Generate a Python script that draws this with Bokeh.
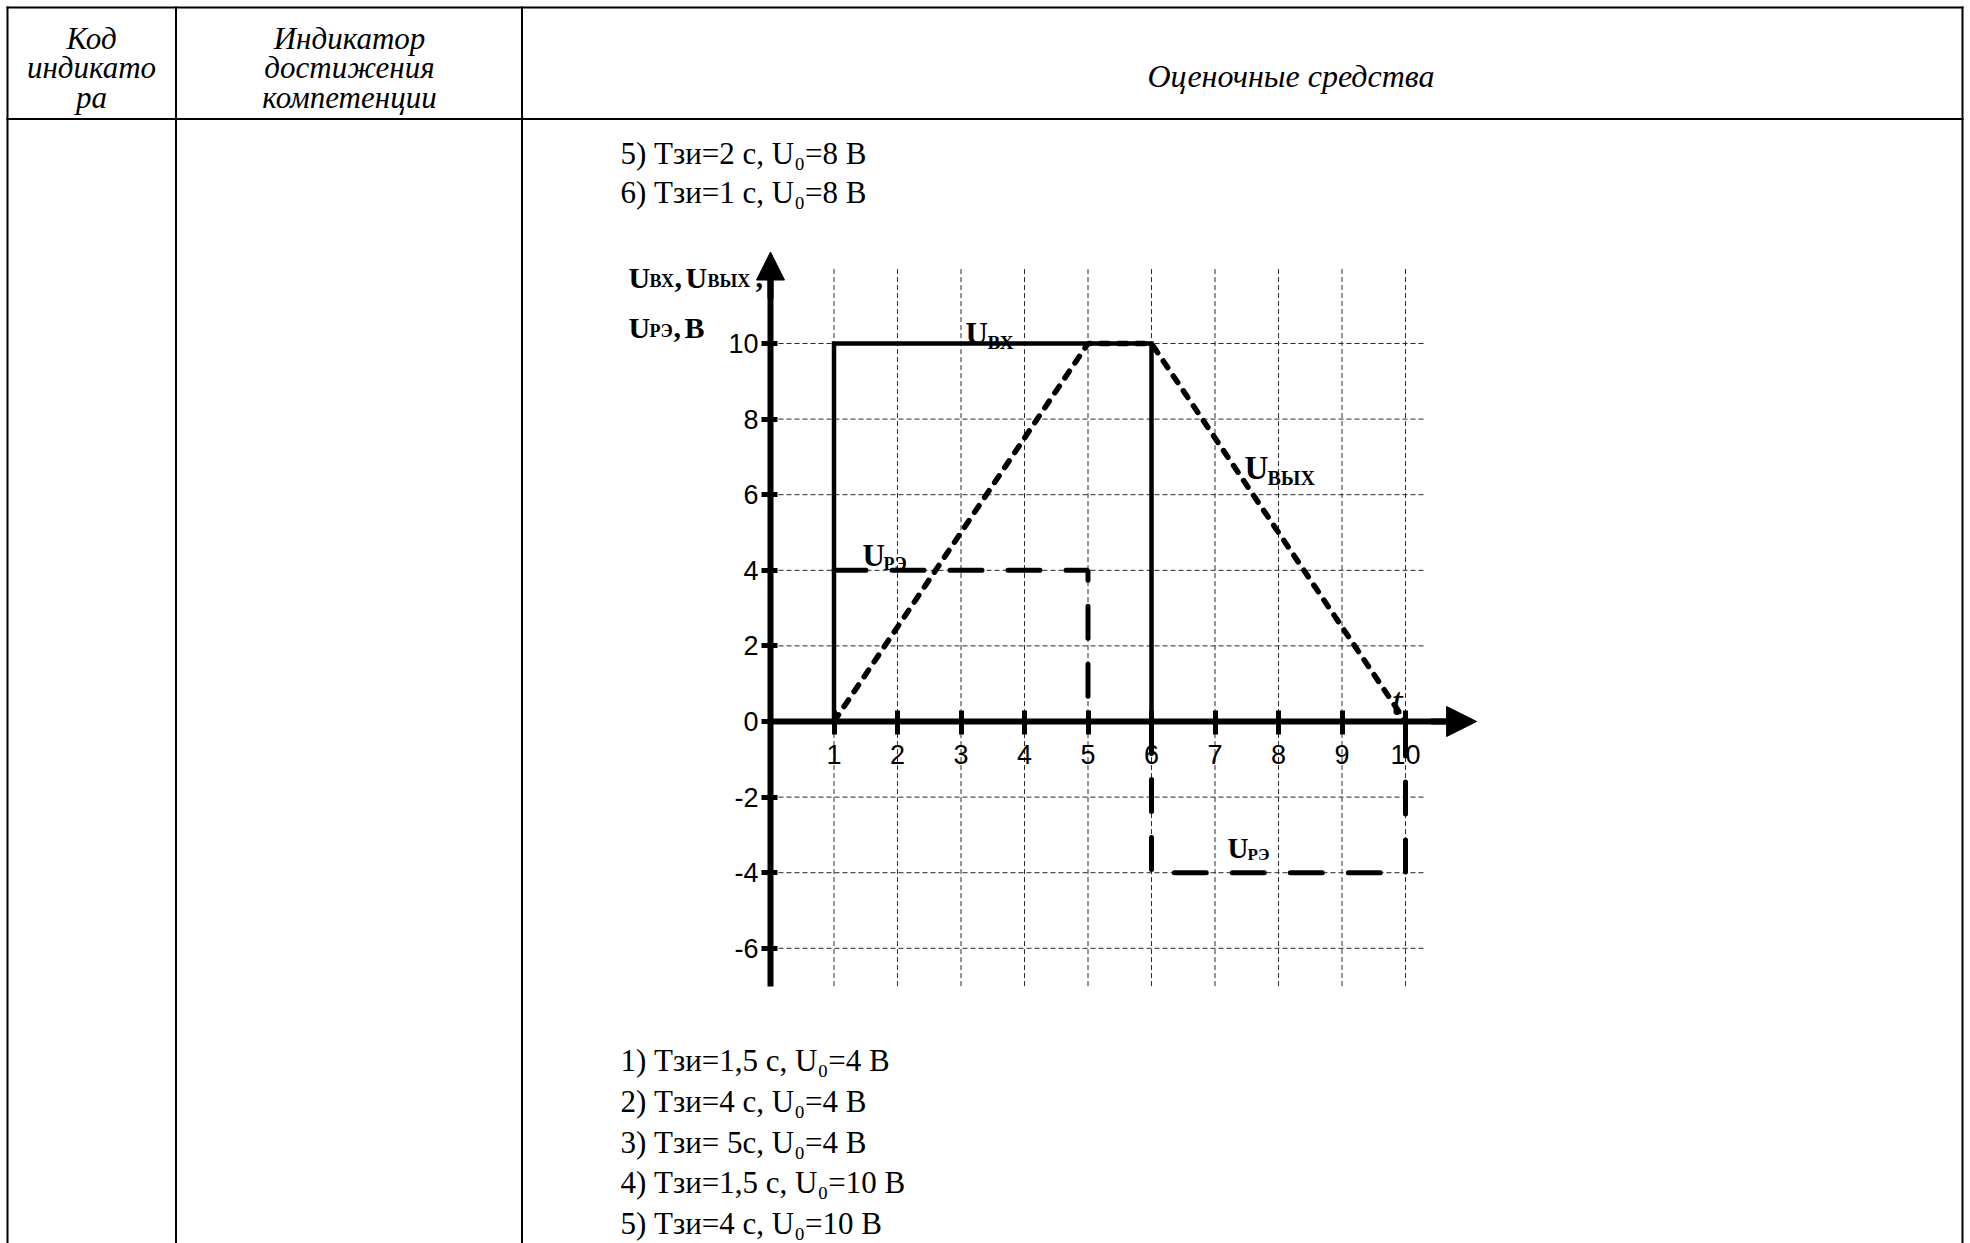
import math
from bokeh.plotting import figure
from bokeh.models import Range1d, FixedTicker, Arrow, NormalHead
from bokeh.core.properties import value
from bokeh.embed import file_html
from bokeh.resources import INLINE

# ---------------- data ----------------
header_col1 = ["Код", "индикато", "ра"]
header_col2 = ["Индикатор", "достижения", "компетенции"]
header_col3 = ["Оценочные средства"]
answers_top = ["5) Тзи=2 с, U₀=8 В", "6) Тзи=1 с, U₀=8 В"]
answers_bottom = ["1) Тзи=1,5 с, U₀=4 В", "2) Тзи=4 с, U₀=4 В", "3) Тзи= 5с, U₀=4 В",
                  "4) Тзи=1,5 с, U₀=10 В", "5) Тзи=4 с, U₀=10 В"]

# input pulse U_вх (solid)
t_vx = [1, 1, 6, 6]
u_vx = [0, 10, 10, 0]
# output U_вых (dotted)
t_vyx = [1, 5, 6, 10]
u_vyx = [0, 10, 10, 0]
# U_РЭ (dashed), two pieces
t_re = [1, 5, 5, math.nan, 6, 6, 10, 10]
u_re = [4, 4, 0, math.nan, 0, -4, -4, 0]

x_ticks = [1, 2, 3, 4, 5, 6, 7, 8, 9, 10]
x_tick_labels = ["1", "2", "3", "4", "5", "6", "7", "8", "9", "10"]
y_ticks = [-6, -4, -2, 0, 2, 4, 6, 8, 10]
y_tick_labels = ["-6", "-4", "-2", "0", "2", "4", "6", "8", "10"]

# ---------------- layout constants (page pixels) ----------------
W, H = 1970, 1243
X0_PX, X_UNIT = 770.0, 63.5      # page x of t=0, px per unit
Y0_PX, Y_UNIT = 721.0, 37.8      # page y of U=0, px per unit

x_start = (0 - X0_PX) / X_UNIT
x_end = (W - X0_PX) / X_UNIT
y_end = Y0_PX / Y_UNIT
y_start = (Y0_PX - H) / Y_UNIT

p = figure(width=W, height=H, x_range=Range1d(x_start, x_end), y_range=Range1d(y_start, y_end),
           output_backend="svg", toolbar_location=None, min_border=0,
           outline_line_color=None, background_fill_color="white", border_fill_color="white")
p.extra_x_ranges = {"px": Range1d(0, W)}
p.extra_y_ranges = {"px": Range1d(H, 0)}
p.xgrid.visible = False
p.ygrid.visible = False

# ---------------- table ----------------
BL = 2
tx0 = [6, 6, 7, 175.5, 521.5, 1962]
ty0 = [7, 118.5, 6, 6, 6, 6]
tx1 = [1963, 1963, 7, 175.5, 521.5, 1962]
ty1 = [7, 118.5, H, H, H, H]
p.segment(tx0, ty0, tx1, ty1, line_color="black", line_width=BL,
          x_range_name="px", y_range_name="px")

serif = value("Liberation Serif")
hdr_base = [38, 67, 97]
p.text([91] * 3, hdr_base, text=header_col1, text_font=serif, text_font_size="31px",
       text_font_style="italic", text_align="center", text_baseline="alphabetic",
       text_color="black", x_range_name="px", y_range_name="px")
p.text([349] * 3, hdr_base, text=header_col2, text_font=serif, text_font_size="31px",
       text_font_style="italic", text_align="center", text_baseline="alphabetic",
       text_color="black", x_range_name="px", y_range_name="px")
p.text([1147], [75], text=header_col3, text_font=serif, text_font_size="32px",
       text_font_style="italic", text_align="left", text_baseline="alphabetic",
       text_color="black", x_range_name="px", y_range_name="px")

p.text([620] * 2, [153, 192], text=answers_top, text_font=serif, text_font_size="31px",
       text_align="left", text_baseline="alphabetic", text_color="black",
       x_range_name="px", y_range_name="px")
p.text([620] * 5, [1060 + 40.75 * i for i in range(5)], text=answers_bottom, text_font=serif,
       text_font_size="31px", text_align="left", text_baseline="alphabetic", text_color="black",
       x_range_name="px", y_range_name="px")

# ---------------- chart grid ----------------
grid_kw = dict(line_color="#2a2a2a", line_width=1, line_dash="5 3")
p.segment(x_ticks, [-7] * len(x_ticks), x_ticks, [12] * len(x_ticks), **grid_kw)
hy = [v for v in y_ticks if v != 0]
p.segment([0] * len(hy), hy, [10.3] * len(hy), hy, **grid_kw)

# ---------------- series ----------------
p.line(t_vx, u_vx, line_color="black", line_width=4.5, line_join="miter")
p.line(t_vyx, u_vyx, line_color="black", line_width=5.5, line_dash="8 10", line_cap="round")
p.line(t_re, u_re, line_color="black", line_width=5, line_dash="32 26", line_cap="round")

# ---------------- axes ----------------
xa = p.xaxis[0]
xa.fixed_location = 0
xa.bounds = (0, 10.7)
xa.ticker = FixedTicker(ticks=x_ticks)
xa.major_label_overrides = dict(zip(x_ticks, x_tick_labels))
xa.minor_tick_line_color = None
xa.axis_line_width = 6
xa.major_tick_line_width = 5
xa.major_tick_in = 11
xa.major_tick_out = 13
xa.major_label_standoff = 10
xa.major_label_text_font = "Liberation Sans"
xa.major_label_text_font_size = "27px"
xa.major_label_text_color = "black"

ya = p.yaxis[0]
ya.fixed_location = 0
ya.bounds = (-7, 11.7)
ya.ticker = FixedTicker(ticks=y_ticks)
ya.major_label_overrides = dict(zip(y_ticks, y_tick_labels))
ya.minor_tick_line_color = None
ya.axis_line_width = 6
ya.major_tick_line_width = 5
ya.major_tick_in = 7
ya.major_tick_out = 9
ya.major_label_standoff = 3
ya.major_label_text_font = "Liberation Sans"
ya.major_label_text_font_size = "27px"
ya.major_label_text_color = "black"

p.add_layout(Arrow(x_start=0, y_start=11.2, x_end=0, y_end=12.42, line_width=6, line_color="black",
                   end=NormalHead(size=28, fill_color="black", line_color="black", line_width=1)))
p.add_layout(Arrow(x_start=10.4, y_start=0, x_end=11.12, y_end=0, line_width=6, line_color="black",
                   end=NormalHead(size=30, fill_color="black", line_color="black", line_width=1)))

# ---------------- chart labels (page pixel positions) ----------------
def lab(txt, x, y, size, style="bold"):
    p.text([x], [y], text=[txt], text_font=serif, text_font_size=f"{size}px",
           text_font_style=style, text_align="left", text_baseline="alphabetic",
           text_color="black", x_range_name="px", y_range_name="px")

# axis title
lab("U", 628, 277, 30); lab("ВХ", 649, 280, 18); lab(",", 674, 277, 30)
lab("U", 685, 277, 30); lab("ВЫХ", 707, 280, 18); lab(",", 755, 277, 30)
lab("U", 628, 327, 30); lab("РЭ", 649, 330, 18); lab(",", 673, 327, 30); lab("В", 684, 327, 30)
# curve labels
lab("U", 965, 333, 31); lab("ВХ", 987, 342, 19)
lab("U", 1244, 467, 33); lab("ВЫХ", 1267, 477, 20)
lab("U", 862, 555, 31); lab("РЭ", 883, 563, 18)
lab("U", 1227, 847, 29); lab("РЭ", 1247, 854, 17)
lab("t", 1391, 701, 40, "italic")

open("out.html", "w").write(file_html(p, INLINE))
